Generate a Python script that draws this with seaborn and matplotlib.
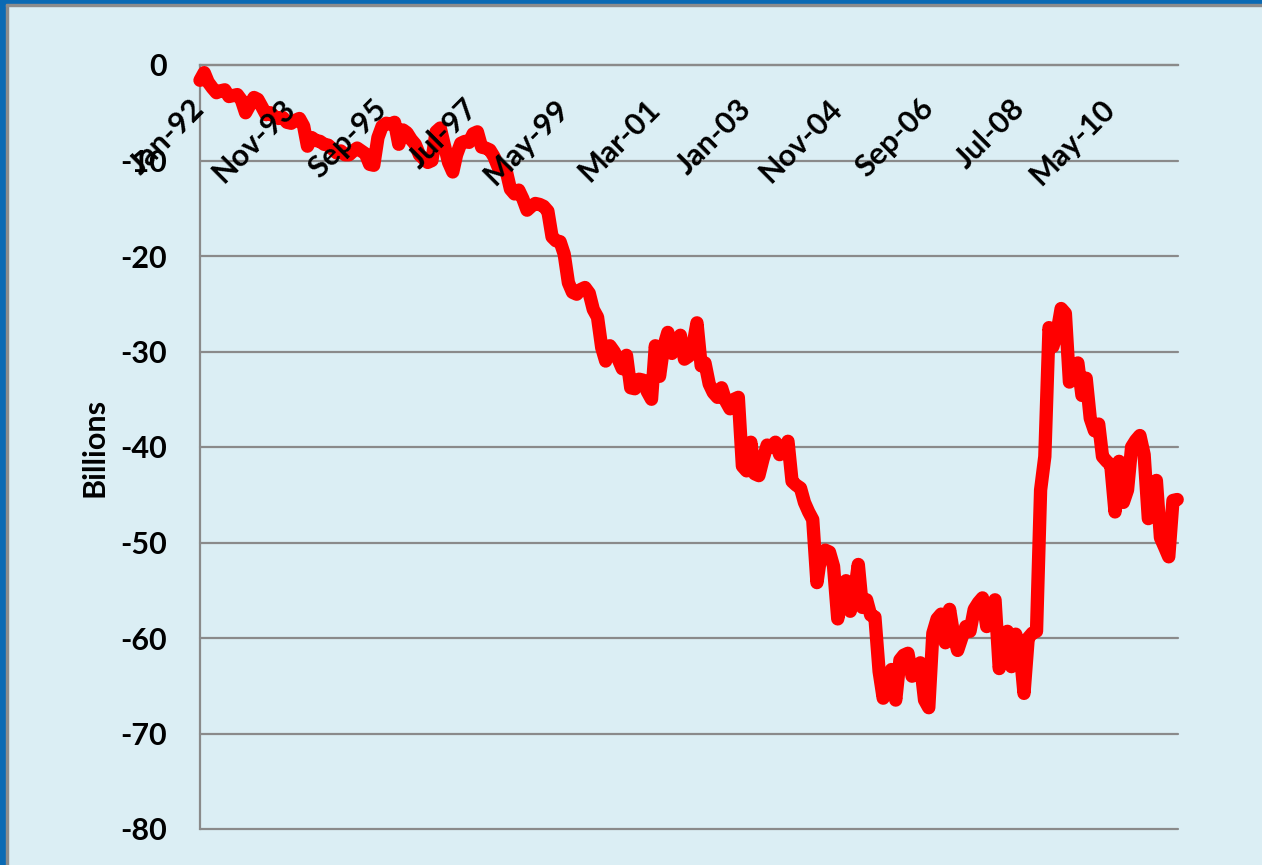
import matplotlib
matplotlib.use("Agg")
import matplotlib.pyplot as plt
import matplotlib.dates as mdates
from matplotlib.patches import Rectangle
import pandas as pd
import seaborn as sns

# Monthly balance, billions, January 1992 onwards
start_month = "1992-01-01"
bal_1992 = [-1.6, -0.8, -1.8, -2.4, -2.9, -2.7, -2.6, -3.3, -3.2, -3.1, -3.7, -5.0]
bal_1993 = [-4.2, -3.4, -3.6, -4.4, -5.2, -5.0, -5.4, -5.6, -5.5, -6.0, -6.1, -5.8]
bal_1994 = [-5.6, -6.4, -8.5, -7.6, -7.9, -8.0, -8.3, -8.4, -8.8, -9.2, -9.0, -9.4]
bal_1995 = [-9.4, -9.0, -8.7, -9.0, -9.3, -10.4, -10.5, -7.6, -6.4, -6.1, -6.2, -6.0]
bal_1996 = [-8.3, -6.8, -7.1, -7.8, -8.3, -9.4, -9.8, -10.2, -10.0, -7.0, -6.6, -8.4]
bal_1997 = [-10.2, -11.2, -9.4, -8.2, -8.0, -8.1, -7.2, -7.0, -8.6, -8.7, -8.9, -9.6]
bal_1998 = [-10.7, -10.9, -11.1, -13.0, -13.5, -13.1, -14.0, -15.2, -14.8, -14.5, -14.6, -14.8]
bal_1999 = [-15.3, -18.0, -18.4, -18.5, -19.8, -22.8, -23.8, -24.0, -23.5, -23.3, -23.9, -25.6]
bal_2000 = [-26.4, -29.6, -31.0, -29.4, -30.0, -30.8, -31.8, -30.4, -33.8, -33.9, -32.9, -33.0]
bal_2001 = [-34.2, -35.0, -29.4, -32.6, -29.5, -28.0, -30.2, -29.0, -28.3, -30.8, -30.5, -29.5]
bal_2002 = [-27.0, -31.5, -31.2, -33.4, -34.3, -34.8, -33.8, -35.2, -36.0, -35.0, -34.8, -42.0]
bal_2003 = [-42.5, -39.5, -42.8, -43.0, -41.3, -39.8, -40.0, -39.5, -40.8, -40.5, -39.4, -43.6]
bal_2004 = [-44.0, -44.3, -45.8, -46.8, -47.6, -54.2, -51.2, -50.8, -51.0, -52.5, -58.0, -55.0]
bal_2005 = [-54.0, -57.2, -55.5, -52.3, -56.8, -56.0, -57.6, -57.8, -63.5, -66.3, -64.5, -63.3]
bal_2006 = [-66.5, -62.3, -61.8, -61.6, -64.0, -63.3, -62.6, -66.5, -67.3, -59.5, -58.0, -57.5]
bal_2007 = [-60.5, -57.0, -59.5, -61.3, -60.0, -58.8, -59.3, -57.0, -56.3, -55.8, -58.8, -57.0]
bal_2008 = [-56.0, -63.2, -61.0, -59.3, -63.0, -59.6, -61.0, -65.8, -60.0, -59.5, -59.3, -44.5]
bal_2009 = [-41.0, -27.5, -29.5, -28.0, -25.5, -26.0, -33.2, -31.5, -31.2, -34.6, -32.8, -37.0]
bal_2010 = [-38.3, -37.6, -41.0, -41.5, -41.9, -46.8, -41.5, -45.8, -44.5, -40.0, -39.3, -38.8]
bal_2011 = [-40.8, -47.5, -46.3, -43.5, -49.5, -50.5, -51.5, -45.6, -45.5]

x_tick_labels = ["Jan-92", "Nov-93", "Sep-95", "Jul-97", "May-99", "Mar-01",
                 "Jan-03", "Nov-04", "Sep-06", "Jul-08", "May-10"]
y_tick_values = [0, -10, -20, -30, -40, -50, -60, -70, -80]
y_tick_labels = ["0", "-10", "-20", "-30", "-40", "-50", "-60", "-70", "-80"]

balance = (bal_1992 + bal_1993 + bal_1994 + bal_1995 + bal_1996 + bal_1997 +
           bal_1998 + bal_1999 + bal_2000 + bal_2001 + bal_2002 + bal_2003 +
           bal_2004 + bal_2005 + bal_2006 + bal_2007 + bal_2008 + bal_2009 +
           bal_2010 + bal_2011)
months = pd.date_range(start_month, periods=len(balance), freq="MS")
df = pd.DataFrame({"month": months, "billions": balance})

sns.set_theme(style="white")
plt.rcParams["font.family"] = ["Lato", "DejaVu Sans"]
plt.rcParams["font.weight"] = "bold"
plt.rcParams["axes.unicode_minus"] = False

BG = "#DBEEF4"
GRID = "#8A8A8A"
W, H = 1262, 865

fig = plt.figure(figsize=(W / 100, H / 100), dpi=100, facecolor=BG)
ax = fig.add_axes([200 / W, 1 - 829 / H, 978 / W, 764 / H])
ax.set_facecolor(BG)

sns.lineplot(data=df, x="month", y="billions", ax=ax, color="#FF0000",
             linewidth=9.6, solid_joinstyle="round", solid_capstyle="round",
             clip_on=False, zorder=2)

# spines first: moving a spine rebuilds the ticks of its axis
ax.spines["bottom"].set_position(("data", 0))
ax.spines["bottom"].set_color(GRID)
ax.spines["bottom"].set_linewidth(1.6)
ax.spines["bottom"].set_zorder(1)
ax.spines["left"].set_color(GRID)
ax.spines["left"].set_linewidth(1.6)
ax.spines["left"].set_zorder(1)
ax.spines["top"].set_visible(False)
ax.spines["right"].set_visible(False)

# axes limits
ax.set_ylim(-80, 0)
ax.set_xlim(mdates.date2num(months[0]),
            mdates.date2num(months[-1] + pd.Timedelta(days=6)))

# y axis: gridlines sit under the line
ax.set_yticks(y_tick_values)
ax.set_yticklabels(y_tick_labels)
ax.yaxis.grid(True, color=GRID, linewidth=1.6)
for gl in ax.get_ygridlines():
    gl.set_clip_on(False)
ax.tick_params(axis="y", direction="out", length=11, width=1.6, color=GRID,
               pad=13, labelsize=22, labelcolor="black")
ax.set_ylabel("Billions", fontsize=22, fontweight="bold", labelpad=8,
              color="black")
ax.yaxis.set_zorder(0.5)

# x axis along the zero line, labels hanging below it and over the line
tick_dates = pd.date_range(start_month, periods=len(x_tick_labels), freq="22MS")
ax.set_xticks(mdates.date2num(tick_dates))
ax.set_xticklabels(x_tick_labels)
ax.set_xlabel("")
ax.tick_params(axis="x", direction="out", length=8, width=1.6, color=GRID,
               pad=20, labelsize=22, labelcolor="black", labelrotation=45)
for lab in ax.get_xticklabels():
    lab.set_ha("right")
    lab.set_va("center")
    lab.set_rotation_mode("anchor")
ax.xaxis.set_zorder(5)

# frame edges of the slide
fig.patches.append(Rectangle((0, 0), 6 / W, 1, transform=fig.transFigure,
                             color="#0A6AB4", zorder=10))
fig.patches.append(Rectangle((6 / W, 0), 1.5 / W, 1 - 4 / H,
                             transform=fig.transFigure, color="#8C8C8C", zorder=10))
fig.patches.append(Rectangle((0, 1 - 4 / H), 1, 4 / H, transform=fig.transFigure,
                             color="#0A6AB4", zorder=10))
fig.patches.append(Rectangle((6 / W, 1 - 5.5 / H), 1, 1.5 / H,
                             transform=fig.transFigure, color="#8C8C8C", zorder=10))

fig.savefig("out.png", dpi=100, facecolor=BG)
